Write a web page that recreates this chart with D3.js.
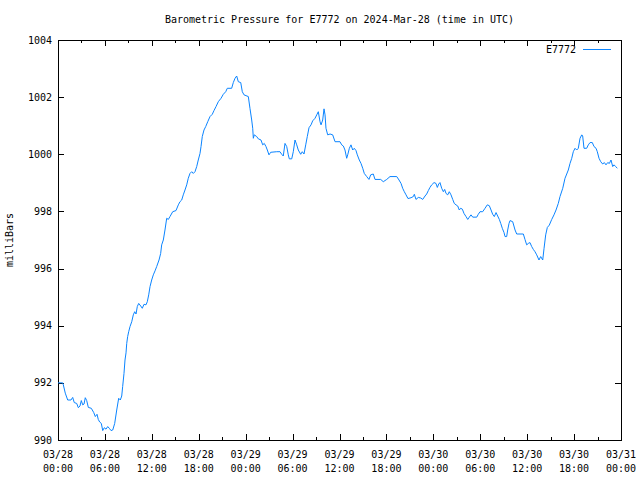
<!DOCTYPE html>
<html>
<head>
<meta charset="utf-8">
<script src="https://cdn.jsdelivr.net/npm/d3@7"></script>
<style>
  html, body { margin: 0; padding: 0; background: #fff; }
  svg { display: block; }
  text { font-family: "DejaVu Sans Mono", "Liberation Mono", monospace; font-size: 10px; fill: #000; }
</style>
</head>
<body>
<svg id="chart" width="640" height="480"></svg>
<script>
// ---- Data (hours since 2024-03-28 00:00 UTC, pressure in mb) ----
const seriesName = "E7772";
const hours = [
  0.0, 0.6, 0.68, 0.93, 1.24, 1.66, 1.88, 2.08, 2.39, 2.6, 2.81, 2.98, 3.16, 3.33, 3.49, 3.67, 3.88, 4.26, 4.57, 4.77,
  4.99, 5.15, 5.33, 5.54, 5.72, 5.92, 6.14, 6.36, 6.56, 6.78, 7.0, 7.25, 7.51, 7.76, 7.97, 8.15, 8.27, 8.44, 8.57, 8.7,
  8.79, 8.91, 9.04, 9.21, 9.43, 9.63, 9.81, 9.98, 10.14, 10.32, 10.58, 10.78, 11.0, 11.25, 11.42, 11.6, 11.77, 11.98, 12.19, 12.41,
  12.62, 12.92, 13.13, 13.26, 13.47, 13.68, 13.9, 14.11, 14.32, 14.67, 15.09, 15.39, 15.6, 15.82, 16.02, 16.24, 16.46, 16.66, 16.88, 17.1,
  17.3, 17.52, 17.74, 17.94, 18.16, 18.29, 18.45, 18.67, 18.89, 19.15, 19.44, 19.73, 19.95, 20.21, 20.5, 20.85, 21.14, 21.45, 21.65, 22.21,
  22.42, 22.64, 22.85, 23.06, 23.37, 23.57, 23.79, 24.34, 24.55, 24.77, 24.9, 24.98, 25.1, 25.41, 25.62, 25.96, 26.18, 26.38, 26.6, 26.77,
  26.98, 27.2, 27.97, 28.39, 28.61, 28.81, 29.03, 29.25, 29.45, 29.58, 29.89, 30.09, 30.31, 30.53, 30.73, 31.04, 31.24, 31.46, 31.68, 31.88,
  32.1, 32.36, 32.57, 32.87, 33.09, 33.29, 33.51, 33.64, 33.85, 34.02, 34.15, 34.27, 34.49, 34.79, 35.13, 35.43, 36.06, 36.28, 36.49, 36.7,
  36.92, 37.05, 37.26, 37.47, 37.69, 37.89, 38.11, 38.28, 38.53, 38.75, 38.97, 39.17, 39.48, 39.77, 39.99, 40.32, 40.54, 41.27, 41.6, 42.04,
  42.46, 43.32, 43.61, 43.87, 44.08, 44.29, 44.51, 44.76, 45.15, 45.44, 45.57, 45.78, 46.08, 46.39, 46.64, 46.94, 47.15, 47.36, 47.57, 47.79,
  48.09, 48.34, 48.51, 48.69, 48.85, 49.07, 49.28, 49.45, 49.62, 49.84, 50.04, 50.26, 50.48, 50.68, 50.9, 51.12, 51.32, 51.5, 51.71, 51.92,
  52.18, 52.4, 52.6, 52.82, 53.04, 53.55, 53.75, 53.97, 54.31, 54.61, 54.9, 55.16, 55.38, 55.59, 55.8, 56.02, 56.23, 56.44, 56.62, 56.82,
  57.04, 57.17, 57.38, 57.51, 57.68, 57.81, 58.15, 58.45, 58.66, 59.51, 59.72, 59.94, 60.15, 60.36, 60.58, 60.79, 61.0, 61.22, 61.51, 61.73,
  61.99, 62.16, 62.37, 62.58, 62.83, 63.14, 63.43, 63.69, 63.98, 64.2, 64.55, 64.84, 65.06, 65.26, 65.48, 65.7, 65.9, 66.12, 66.34, 66.54,
  66.76, 66.98, 67.1, 67.27, 67.61, 67.82, 68.04, 68.33, 68.55, 68.81, 68.97, 69.19, 69.41, 69.66, 69.87, 70.08, 70.3, 70.51, 70.72, 70.94,
  71.11, 71.32, 71.53
];
const pressure = [
  992.0, 992.0, 991.93, 991.64, 991.4, 991.4, 991.49, 991.31, 991.28, 991.13, 991.19, 991.38, 991.23, 991.26, 991.48, 991.38, 991.14, 991.11, 990.96, 990.82,
  990.9, 990.72, 990.63, 990.58, 990.33, 990.43, 990.38, 990.47, 990.41, 990.33, 990.35, 990.58, 991.05, 991.46, 991.4, 991.54, 991.87, 992.33, 992.8, 993.05,
  993.38, 993.62, 993.79, 993.97, 994.14, 994.38, 994.49, 994.41, 994.67, 994.78, 994.69, 994.61, 994.75, 994.73, 994.84, 995.08, 995.37, 995.6, 995.78, 995.92,
  996.07, 996.3, 996.53, 996.83, 997.0, 997.35, 997.76, 997.72, 997.82, 997.99, 998.03, 998.23, 998.34, 998.4, 998.58, 998.75, 998.93, 999.16, 999.33, 999.39,
  999.33, 999.39, 999.57, 999.8, 1000.03, 1000.27, 1000.62, 1000.85, 1000.97, 1001.14, 1001.32, 1001.4, 1001.53, 1001.67, 1001.84, 1001.96, 1002.1, 1002.19, 1002.31, 1002.31,
  1002.51, 1002.66, 1002.74, 1002.54, 1002.51, 1002.19, 1002.08, 1002.02, 1001.61, 1001.2, 1000.91, 1000.56, 1000.68, 1000.62, 1000.54, 1000.5, 1000.33, 1000.38, 1000.27, 1000.15,
  999.98, 1000.07, 1000.09, 1000.09, 1000.0, 999.94, 1000.38, 1000.27, 999.98, 999.84, 999.84, 1000.09, 1000.5, 1000.33, 1000.15, 1000.0, 1000.09, 1000.01, 1000.33, 1000.62,
  1000.93, 1001.03, 1001.17, 1001.26, 1001.38, 1001.49, 1001.14, 1001.03, 1001.2, 1001.59, 1001.38, 1000.91, 1000.68, 1000.71, 1000.68, 1000.44, 1000.44, 1000.33, 1000.29, 1000.15,
  999.86, 999.98, 1000.21, 1000.33, 1000.15, 1000.21, 1000.13, 999.98, 999.8, 999.68, 999.51, 999.33, 999.22, 999.12, 999.28, 999.31, 999.12, 999.12, 999.04, 999.12,
  999.22, 999.22, 999.1, 998.98, 998.81, 998.69, 998.58, 998.45, 998.48, 998.52, 998.6, 998.42, 998.49, 998.47, 998.42, 998.54, 998.61, 998.73, 998.84, 998.93,
  999.01, 998.98, 998.84, 998.96, 999.01, 998.81, 998.69, 998.77, 998.63, 998.58, 998.69, 998.58, 998.42, 998.28, 998.23, 998.19, 998.05, 998.11, 998.08, 997.93,
  997.82, 997.72, 997.8, 997.88, 997.8, 997.8, 997.9, 997.99, 997.99, 998.11, 998.23, 998.2, 998.05, 997.9, 997.82, 997.96, 997.84, 997.72, 997.58, 997.41,
  997.26, 997.12, 997.12, 997.35, 997.58, 997.68, 997.64, 997.35, 997.21, 997.21, 997.02, 996.83, 996.88, 996.91, 996.77, 996.67, 996.59, 996.48, 996.3, 996.42,
  996.3, 996.71, 997.18, 997.44, 997.52, 997.72, 997.88, 998.05, 998.28, 998.52, 998.81, 999.16, 999.31, 999.45, 999.68, 999.86, 1000.09, 1000.21, 1000.15, 1000.21,
  1000.56, 1000.68, 1000.64, 1000.21, 1000.21, 1000.33, 1000.41, 1000.41, 1000.27, 1000.21, 1000.09, 999.86, 999.74, 999.66, 999.71, 999.63, 999.71, 999.68, 999.8, 999.57,
  999.63, 999.57, 999.51
];

const xTickHours = [0, 6, 12, 18, 24, 30, 36, 42, 48, 54, 60, 66, 72];
const xTickDates = ["03/28", "03/28", "03/28", "03/28", "03/29", "03/29", "03/29", "03/29", "03/30", "03/30", "03/30", "03/30", "03/31"];
const xTickTimes = ["00:00", "06:00", "12:00", "18:00", "00:00", "06:00", "12:00", "18:00", "00:00", "06:00", "12:00", "18:00", "00:00"];
const xMinorHours = [3, 9, 15, 21, 27, 33, 39, 45, 51, 57, 63, 69];
const yTicks = [990, 992, 994, 996, 998, 1000, 1002, 1004];

const titleText = "Barometric Pressure for E7772 on 2024-Mar-28 (time in UTC)";
const yLabelText = "milliBars";

// ---- Layout ----
const L = 58, R = 621, T = 40, B = 440;
const lineColor = "#0a84ff";

const svg = d3.select("#chart");
const x = d3.scaleLinear().domain([0, 72]).range([L, R]);
const y = d3.scaleLinear().domain([990, 1004]).range([B, T]);

// Axes (ticks drawn inward like gnuplot)
const gB = svg.append("g").attr("transform", `translate(0,${B})`)
  .call(d3.axisBottom(x).tickValues(xTickHours).tickSize(-6).tickFormat(""));
const gBm = svg.append("g").attr("transform", `translate(0,${B})`)
  .call(d3.axisBottom(x).tickValues(xMinorHours).tickSize(-3).tickFormat(""));
const gT = svg.append("g").attr("transform", `translate(0,${T})`)
  .call(d3.axisTop(x).tickValues(xTickHours).tickSize(-6).tickFormat(""));
const gTm = svg.append("g").attr("transform", `translate(0,${T})`)
  .call(d3.axisTop(x).tickValues(xMinorHours).tickSize(-3).tickFormat(""));
const gL = svg.append("g").attr("transform", `translate(${L},0)`)
  .call(d3.axisLeft(y).tickValues(yTicks).tickSize(-6).tickFormat(""));
const gR = svg.append("g").attr("transform", `translate(${R},0)`)
  .call(d3.axisRight(y).tickValues(yTicks).tickSize(-6).tickFormat(""));
[gB, gBm, gT, gTm, gL, gR].forEach(g => {
  g.select(".domain").remove();
  g.selectAll("line").attr("stroke", "#000").attr("shape-rendering", "crispEdges");
});

// Frame
svg.append("rect")
  .attr("x", L + 0.5).attr("y", T + 0.5)
  .attr("width", R - L).attr("height", B - T)
  .attr("fill", "none").attr("stroke", "#000").attr("stroke-width", 1)
  .attr("shape-rendering", "crispEdges");

// Y tick labels
svg.append("g").selectAll("text").data(yTicks).join("text")
  .attr("x", L - 6).attr("y", d => y(d)).attr("dy", "0.35em")
  .attr("text-anchor", "end").text(d => d);

// X tick labels (two lines)
const xl = svg.append("g").selectAll("g").data(xTickHours).join("g")
  .attr("transform", d => `translate(${x(d)},0)`);
xl.append("text").attr("y", 458).attr("text-anchor", "middle").text((d, i) => xTickDates[i]);
xl.append("text").attr("y", 472).attr("text-anchor", "middle").text((d, i) => xTickTimes[i]);

// Title
svg.append("text").attr("x", (L + R) / 2).attr("y", 23).attr("text-anchor", "middle").text(titleText);

// Y axis label
svg.append("text").attr("transform", `translate(13,${(T + B) / 2}) rotate(-90)`)
  .attr("text-anchor", "middle").text(yLabelText);

// Legend
svg.append("text").attr("x", 576).attr("y", 53).attr("text-anchor", "end").text(seriesName);
svg.append("line").attr("x1", 583).attr("x2", 611).attr("y1", 49.5).attr("y2", 49.5)
  .attr("stroke", lineColor).attr("stroke-width", 1);

// Series line
const data = hours.map((h, i) => ({ h, p: pressure[i] }));
svg.append("path").datum(data)
  .attr("fill", "none").attr("stroke", lineColor).attr("stroke-width", 1)
  .attr("d", d3.line().x(d => x(d.h)).y(d => y(d.p)));
</script>
</body>
</html>
